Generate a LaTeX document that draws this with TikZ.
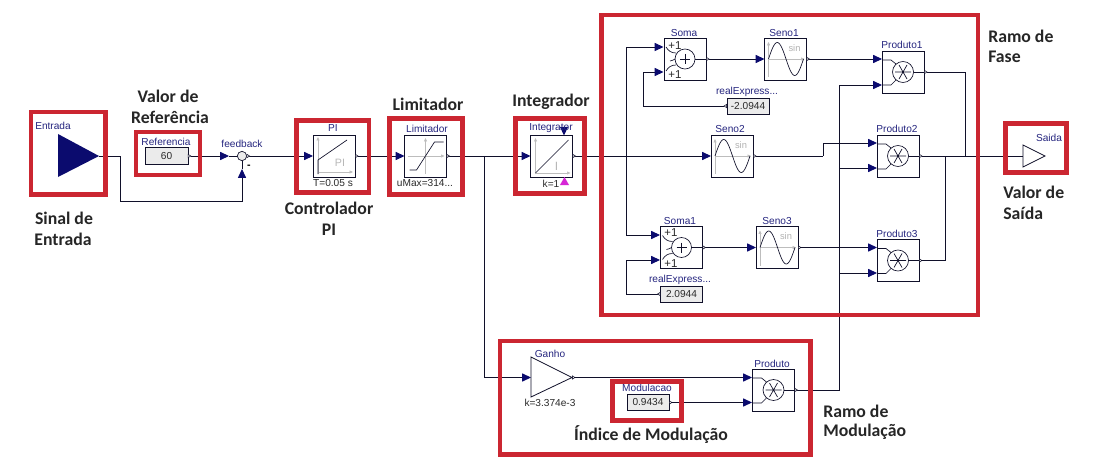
\documentclass[tikz,border=0pt]{standalone}
\usepackage{fontspec}
\setmainfont{Liberation Sans}
\newfontfamily\bigfont{Carlito}
\usetikzlibrary{arrows.meta}
\definecolor{framered}{HTML}{CB2631}
\definecolor{navyblue}{HTML}{0B0B6E}
\definecolor{wirecol}{HTML}{10102A}
\definecolor{labelblue}{HTML}{25257F}
\definecolor{paramcol}{HTML}{2A2A2A}
\definecolor{axiscol}{HTML}{BDBDBD}
\definecolor{markviolet}{HTML}{D626D6}
\tikzset{
  wire/.style={line width=0.7pt,color=wirecol},
  intip/.tip={Triangle[length=6.6pt,width=6pt,color=navyblue,fill=navyblue]},
  outtip/.tip={Triangle[reversed,length=2.6pt,width=3.2pt,line width=0.4pt,fill=white,color=wirecol]},
  link/.style={wire,{outtip}-{intip}},
  linkout/.style={wire,{outtip}-},
  linkin/.style={wire,-{intip}},
  block/.style={draw=wirecol,line width=0.6pt,fill=white,minimum width=31.5pt,minimum height=31.5pt,inner sep=0pt,outer sep=0pt},
  valuebox/.style={draw=wirecol,line width=0.5pt,fill=black!8,minimum width=31.5pt,minimum height=12pt,inner sep=0pt,outer sep=0pt,font=\fontsize{7.6}{8}\selectfont,text=paramcol},
  nameblue/.style={font=\fontsize{7.6}{8}\selectfont,text=labelblue,inner sep=0pt},
  param/.style={font=\fontsize{7.6}{8}\selectfont,text=paramcol,inner sep=0pt},
  plusone/.style={font=\fontsize{8.6}{9}\selectfont,text=paramcol,inner sep=0pt},
  biglabel/.style={font=\bigfont\bfseries\fontsize{13.3}{14}\selectfont,text=black!85,inner sep=0pt},
  redframe/.style={draw=framered,line width=3.4pt},
  thin line/.style={line width=0.5pt,color=wirecol},
  axisline/.style={line width=0.5pt,color=axiscol,-{Triangle[length=2.6pt,width=2.2pt,color=axiscol,fill=axiscol]}},
  sinicon/.pic={
    \draw[axisline] (-17,18)--(-17,-17);
    \draw[axisline] (-17,0)--(19,0);
    \draw[thin line,smooth] plot[domain=0:360,samples=37] ({-17+\x*35/360},{-16.5*sin(\x)});
    \node[font=\fontsize{7}{8}\selectfont,text=black!30,inner sep=0pt] (-sintext) at (9,-11) {sin};
  },
  prodicon/.pic={
    \draw[thin line] (0,0) circle (10.5);
    \draw[thin line] (-8,0)--(8,0) (-4,-7)--(4,7) (4,-7)--(-4,7);
    \draw[thin line] (10.5,0)--(21,0);
    \draw[thin line] (-21,-12)--(-12,-12)--(-7,-8) (-21,13)--(-12,13)--(-7,8);
  },
  sumicon/.pic={
    \draw[thin line] (0,0) circle (10);
    \draw[line width=0.7pt,color=wirecol] (-5,0)--(5,0) (0,-5)--(0,5);
    \draw[thin line] (10,0)--(21,0);
    \draw[thin line] (-19,-12) to[out=-60,in=180] (-9,-6);
    \draw[thin line] (-19,12) to[out=60,in=180] (-9,6);
    \draw[thin line] (-15,2) to[out=0,in=200] (-10,0);
  },
}
\begin{document}
\begin{tikzpicture}[x=0.75pt,y=-0.75pt]
\useasboundingbox (0,0) rectangle (1098,474);
\fill[white] (0,0) rectangle (1098,474);

% blocks
\node[block] (pi) at (334,156) {};
\node[block] (lim) at (425.5,156) {};
\node[block] (integ) at (551.5,156) {};
\node[block] (soma) at (685,59) {};
\node[block] (soma1) at (681.5,247.5) {};
\node[block] (seno1) at (785.5,59) {};
\node[block] (seno2) at (732,156) {};
\node[block] (seno3) at (777,247.5) {};
\node[block] (prod1) at (903,72) {};
\node[block] (prod2) at (898,156) {};
\node[block] (prod3) at (898,260.5) {};
\node[block] (prod) at (773.5,390) {};
\node[valuebox,minimum width=32pt,minimum height=12.5pt] (ref) at (166.5,156) {60};
\node[valuebox] (rexp) at (748,106) {-2.0944};
\node[valuebox] (rexp1) at (681.5,294) {2.0944};
\node[valuebox] (modv) at (648,402.5) {0.9434};
\node[draw=wirecol,line width=0.5pt,fill=black!8,circle,minimum size=7pt,inner sep=0pt,outer sep=0pt] (fb) at (242,156) {};

% free ends of the triangular blocks and side ports
\coordinate (entr-out) at (99,156);
\coordinate (fb-w) at (229,156);
\coordinate (fb-s) at (242,177);
\coordinate (fb-sin) at (242,169);
\coordinate (br-lim) at (484.5,156);
\coordinate (br-int) at (626.5,156);
\coordinate (soma-a) at (663.5,47);
\coordinate (soma-b) at (663.5,72);
\coordinate (soma1-a) at (660,235);
\coordinate (soma1-b) at (660,260);
\coordinate (p1-a) at (882,59);
\coordinate (p1-b) at (882,85);
\coordinate (p2-a) at (877,143);
\coordinate (p2-b) at (877,168);
\coordinate (p3-a) at (877,247.5);
\coordinate (p3-b) at (877,273);
\coordinate (p-a) at (752,377.5);
\coordinate (p-b) at (752,402.5);
\coordinate (gain-in) at (531,377.5);
\coordinate (gain-out) at (572,377.5);
\coordinate (sai-in) at (1023,156);
\coordinate (bus-top) at (839,85);
\coordinate (sum-out) at (965,156);
\coordinate (p3-riser) at (945,156);
\coordinate (p2-step) at (823,156);

% connectors
\draw[wire] (entr-out) -- (120,156) |- (242,201.5) -- (fb-s);
\draw[wire,-{intip}] (fb-s) -- (fb-sin);
\draw[wire] (fb-sin) -- (fb.south);
\draw[link] (ref.east) -- (fb-w);
\draw[wire] (fb-w) -- (fb.west);
\draw[link] (fb.east) -- (pi.west);
\draw[link] (pi.east) -- (lim.west);
\draw[link] (lim.east) -- (integ.west);
\draw[linkin] (br-lim) |- (gain-in);
\draw[link] (integ.east) -- (seno2.west);
\draw[linkin] (br-int) |- (soma-a);
\draw[linkin] (br-int) |- (soma1-a);
\draw[link] (rexp.west) -- (643.5,106) |- (soma-b);
\draw[link] (rexp1.west) -- (626.5,294) |- (soma1-b);
\draw[link] (soma.east) -- (seno1.west);
\draw[link] (soma1.east) -- (seno3.west);
\draw[link] (seno1.east) -- (p1-a);
\draw[linkout] (seno2.east) -- (p2-step);
\draw[linkin] (p2-step) |- (p2-a);
\draw[link] (seno3.east) -- (p3-a);
\draw[linkout] (prod.east) -| (bus-top);
\draw[linkin] (bus-top) -- (p1-b);
\draw[linkin] (839,168) -- (p2-b);
\draw[linkin] (839,273) -- (p3-b);
\draw[linkout] (prod1.east) -| (sum-out);
\draw[linkout] (prod2.east) -- (sai-in);
\draw[linkout] (prod3.east) -| (p3-riser);
\draw[link] (gain-out) -- (p-a);
\draw[link] (modv.east) -- (p-b);

% triangular blocks
\fill[navyblue] (58,134) -- (58,177) -- (entr-out) -- cycle;
\draw[wire,line width=0.6pt,fill=white] (531,357) -- (531,397) -- (gain-out) -- cycle;
\draw[wire,line width=0.6pt,fill=white] (1023,145) -- (1023,167) -- (1045,156) -- cycle;
\fill[navyblue] (560,127) -- (568,127) -- (564,135.5) -- cycle;
\fill[markviolet] (560,185) -- (569,185) -- (564.5,177) -- cycle;

% block icons
\pic (icona) at (seno1) {sinicon};
\pic (iconb) at (seno2) {sinicon};
\pic (iconc) at (seno3) {sinicon};
\pic at (prod1) {prodicon};
\pic at (prod2) {prodicon};
\pic at (prod3) {prodicon};
\pic at (prod) {prodicon};
\pic at (soma) {sumicon};
\pic at (soma1) {sumicon};
% PI icon
\begin{scope}[shift={(pi)}]
  \draw[axisline] (-16,18)--(-16,-19);
  \draw[axisline] (-16,16)--(19,16);
  \draw[thin line] (-16,18)--(-16,4)--(13,-16);
  \node[font=\fontsize{8}{8}\selectfont,text=black!28,inner sep=0pt] (pitext) at (6,7) {PI};
\end{scope}
% limiter icon
\begin{scope}[shift={(lim)}]
  \draw[axisline] (0,18)--(0,-18);
  \draw[axisline] (-18,0)--(19,0);
  \draw[thin line] (-16,14)--(-9,14)--(9,-14)--(18,-14);
\end{scope}
% integrator icon
\begin{scope}[shift={(integ)}]
  \draw[axisline] (-16,18)--(-16,-18);
  \draw[axisline] (-16,17)--(19,17);
  \draw[thin line] (-16,17)--(17,-16);
  \node[font=\fontsize{9}{9}\selectfont,text=black!28,inner sep=0pt] (itext) at (5,10) {I};
\end{scope}

% small labels
\node[nameblue] (t-entrada) at (53,126) {Entrada};
\node[nameblue] (t-ref) at (166,141.5) {Referencia};
\node[nameblue] (t-fb) at (242,143.5) {feedback};
\node[font=\bfseries\fontsize{8}{8}\selectfont,inner sep=0pt] (t-minus) at (249,166.5) {-};
\node[nameblue] (t-pi) at (333,128.5) {PI};
\node[param] (t-t) at (333,183.5) {T=0.05 s};
\node[nameblue] (t-lim) at (427,128.5) {Limitador};
\node[param] (t-umax) at (425,183.5) {uMax=314...};
\node[nameblue] (t-int) at (551,128.5) {Integrator};
\node[param] (t-k) at (551,184) {k=1};
\node[nameblue] (t-soma) at (684,33) {Soma};
\node[nameblue] (t-soma1) at (680,221) {Soma1};
\node[nameblue] (t-s1) at (784,33) {Seno1};
\node[nameblue] (t-s2) at (730,129) {Seno2};
\node[nameblue] (t-s3) at (777,221) {Seno3};
\node[nameblue] (t-p1) at (902,45) {Produto1};
\node[nameblue] (t-p2) at (897,129) {Produto2};
\node[nameblue] (t-p3) at (897,234) {Produto3};
\node[nameblue] (t-p) at (772,363.5) {Produto};
\node[nameblue] (t-re) at (747,92) {realExpress...};
\node[nameblue] (t-re1) at (680,280) {realExpress...};
\node[nameblue] (t-g) at (550,353.5) {Ganho};
\node[param] (t-gk) at (550,403) {k=3.374e-3};
\node[nameblue] (t-mod) at (647,388) {Modulacao};
\node[nameblue] (t-sai) at (1049,138) {Saida};
\node[plusone] (t-pa) at (675,45.5) {+1};
\node[plusone] (t-pb) at (675,75) {+1};
\node[plusone] (t-pc) at (671,233) {+1};
\node[plusone] (t-pd) at (671,264) {+1};

% red frames
\draw[redframe] (31,112) rectangle (105.5,194.5);
\draw[redframe] (136,132) rectangle (200,175);
\draw[redframe] (296.5,120.5) rectangle (369,192.5);
\draw[redframe] (389.5,118.5) rectangle (462.5,194.5);
\draw[redframe] (515.5,118.5) rectangle (584.5,193.5);
\draw[redframe] (601.5,15) rectangle (978,315);
\draw[redframe] (1005.5,123.5) rectangle (1066.5,172.5);
\draw[redframe] (500,341) rectangle (810.5,454.5);
\draw[redframe] (612.5,381.5) rectangle (681.5,420.5);

% bold labels
\node[biglabel] (l-valor) at (168,96) {Valor de};
\node[biglabel] (l-refe) at (170,117) {Referência};
\node[biglabel] (l-sinal) at (64,218) {Sinal de};
\node[biglabel] (l-entr) at (63,239) {Entrada};
\node[biglabel] (l-contr) at (329,208) {Controlador};
\node[biglabel] (l-pi) at (329,230) {PI};
\node[biglabel] (l-lim) at (428,104) {Limitador};
\node[biglabel] (l-int) at (551,102) {Integrador};
\node[biglabel,anchor=west] (l-ramo) at (988,36) {Ramo de};
\node[biglabel,anchor=west] (l-fase) at (988,57) {Fase};
\node[biglabel,anchor=west] (l-vs) at (1003,192) {Valor de};
\node[biglabel,anchor=west] (l-saida) at (1003,213) {Saída};
\node[biglabel] (l-ind) at (651,435) {Índice de Modulação};
\node[biglabel,anchor=west] (l-rm) at (823,411) {Ramo de};
\node[biglabel,anchor=west] (l-mod) at (823,432) {Modulação};
\end{tikzpicture}
\end{document}
